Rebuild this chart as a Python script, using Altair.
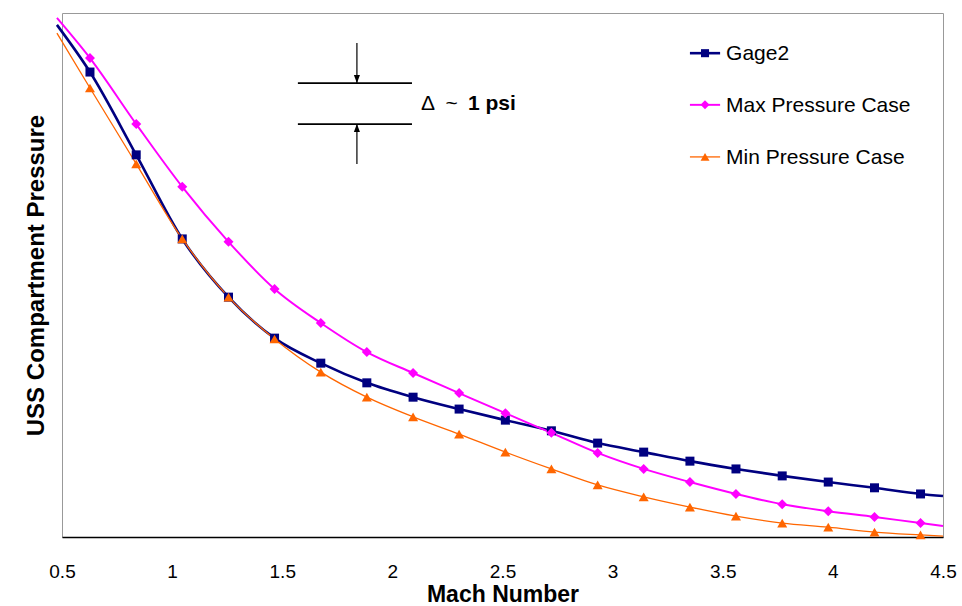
import altair as alt
import pandas as pd

# ---- data ----
series_names = ["Gage2", "Max Pressure Case", "Min Pressure Case"]
series_colors = ["#000080", "#FF00FF", "#FF6600"]
series_widths = [2.6, 1.3, 1.3]
marker_shapes = ["square", "diamond", "triangle-up"]
marker_sizes = [81, 100, 100]

mach = [0.477, 0.627, 0.837, 1.046, 1.256, 1.465, 1.675, 1.884, 2.094, 2.303, 2.513,
        2.722, 2.932, 3.141, 3.351, 3.560, 3.770, 3.979, 4.189, 4.398, 4.500]
has_marker = [False] + [True] * 19 + [False]

gage2 = [12.49, 11.34, 9.32, 7.27, 5.85, 4.85, 4.24, 3.76, 3.41, 3.12, 2.85,
         2.59, 2.29, 2.07, 1.85, 1.66, 1.49, 1.34, 1.20, 1.05, 1.00]
max_case = [12.66, 11.68, 10.07, 8.54, 7.20, 6.05, 5.22, 4.51, 4.00, 3.51, 3.02,
            2.54, 2.05, 1.66, 1.34, 1.05, 0.80, 0.63, 0.49, 0.34, 0.27]
min_case = [12.29, 10.95, 9.10, 7.27, 5.85, 4.83, 4.02, 3.41, 2.93, 2.51, 2.07,
            1.66, 1.27, 0.98, 0.73, 0.51, 0.34, 0.24, 0.12, 0.05, 0.02]

x_ticks = [0.5, 1, 1.5, 2, 2.5, 3, 3.5, 4, 4.5]

# annotation: two levels 1 psi apart
delta_levels = [11.07, 10.07]
delta_x_range = [1.571, 2.089]
arrow_x = 1.839
arrow_tails = [12.05, 9.10]
label_pos = {"x1": 2.13, "x2": 2.343, "y": 10.55}

# legend layout (in chart coordinates, inside the plot at top right)
legend_rows_y = [11.80, 10.54, 9.27]
legend_line_x = [3.351, 3.488]
legend_text_x = 3.515

# ---- build tables ----
rows = []
for name, vals in zip(series_names, [gage2, max_case, min_case]):
    for m, v, mk in zip(mach, vals, has_marker):
        rows.append({"series": name, "mach": m, "psi": v, "marker": mk})
df = pd.DataFrame(rows)

leg = pd.DataFrame({
    "series": series_names,
    "ly": legend_rows_y,
    "lx0": [legend_line_x[0]] * 3,
    "lx1": [legend_line_x[1]] * 3,
    "lxm": [(legend_line_x[0] + legend_line_x[1]) / 2] * 3,
    "ltx": [legend_text_x] * 3,
})

xscale = alt.Scale(domain=[0.5, 4.5], nice=False, zero=False)
yscale = alt.Scale(domain=[0, 12.78], nice=False, zero=False)
FONT = "Liberation Sans"

x_enc = alt.X("mach:Q", scale=xscale,
              axis=alt.Axis(values=x_ticks, format="~g", title="Mach Number", grid=False,
                            ticks=False, tickSize=0, labelPadding=25,
                            labelFontSize=19, labelFont=FONT,
                            labelColor="black", domainColor="black", domainWidth=1.5,
                            titleFont=FONT, titleFontSize=23,
                            titleFontWeight="bold", titleColor="black",
                            titlePadding=2, labelFlush=False))
y_enc = alt.Y("psi:Q", scale=yscale,
              axis=alt.Axis(title="USS Compartment Pressure", labels=False, ticks=False,
                            domain=False, grid=False, titleFont=FONT,
                            titleFontSize=24, titleFontWeight="bold", titleColor="black",
                            titlePadding=14))

color_scale = alt.Scale(domain=series_names, range=series_colors)
width_scale = alt.Scale(domain=series_names, range=series_widths)

lines = alt.Chart(df).mark_line(interpolate="monotone").encode(
    x=x_enc, y=y_enc,
    color=alt.Color("series:N", scale=color_scale, legend=None),
    strokeWidth=alt.StrokeWidth("series:N", scale=width_scale, legend=None),
)

marker_layers = []
for name, shp, sz in zip(series_names, marker_shapes, marker_sizes):
    marker_layers.append(
        alt.Chart(df).transform_filter(
            (alt.datum.series == name) & alt.datum.marker
        ).mark_point(filled=True, opacity=1, shape=shp, size=sz).encode(
            x="mach:Q", y="psi:Q",
            color=alt.Color("series:N", scale=color_scale, legend=None),
        )
    )

# legend drawn with the same scales
legend_lines = alt.Chart(leg).mark_rule().encode(
    x=alt.X("lx0:Q", scale=xscale), x2="lx1:Q", y=alt.Y("ly:Q", scale=yscale),
    color=alt.Color("series:N", scale=color_scale, legend=None),
    strokeWidth=alt.StrokeWidth("series:N", scale=width_scale, legend=None),
)
legend_markers = []
for name, shp, sz in zip(series_names, marker_shapes, marker_sizes):
    legend_markers.append(
        alt.Chart(leg).transform_filter(alt.datum.series == name).mark_point(
            filled=True, opacity=1, shape=shp, size=sz * 0.8).encode(
            x=alt.X("lxm:Q", scale=xscale), y=alt.Y("ly:Q", scale=yscale),
            color=alt.Color("series:N", scale=color_scale, legend=None),
        )
    )
legend_text = alt.Chart(leg).mark_text(align="left", baseline="middle", font=FONT,
                                       fontSize=21, color="black", dy=1).encode(
    x=alt.X("ltx:Q", scale=xscale), y=alt.Y("ly:Q", scale=yscale), text="series:N")

# annotation layers
lv = pd.DataFrame({"y": delta_levels, "x0": [delta_x_range[0]] * 2, "x1": [delta_x_range[1]] * 2})
level_rules = alt.Chart(lv).mark_rule(color="black", strokeWidth=1.6).encode(
    x=alt.X("x0:Q", scale=xscale), x2="x1:Q", y=alt.Y("y:Q", scale=yscale))

ar = pd.DataFrame({"x": [arrow_x] * 2, "tail": arrow_tails, "tip": delta_levels,
                   "dir": ["down", "up"]})
arrow_lines = alt.Chart(ar).mark_rule(color="black", strokeWidth=1.2).encode(
    x=alt.X("x:Q", scale=xscale), y=alt.Y("tail:Q", scale=yscale), y2="tip:Q")
arrow_down = alt.Chart(ar).transform_filter("datum.dir == 'down'").mark_point(
    filled=True, color="black", opacity=1, size=256, shape="M0,0L-0.38,-1L0.38,-1Z").encode(
    x=alt.X("x:Q", scale=xscale), y=alt.Y("tip:Q", scale=yscale))
arrow_up = alt.Chart(ar).transform_filter("datum.dir == 'up'").mark_point(
    filled=True, color="black", opacity=1, size=256, shape="M0,0L-0.38,1L0.38,1Z").encode(
    x=alt.X("x:Q", scale=xscale), y=alt.Y("tip:Q", scale=yscale))

lab = pd.DataFrame({"x": [label_pos["x1"]], "x2": [label_pos["x2"]], "y": [label_pos["y"]]})
text1 = alt.Chart(lab).mark_text(text="\u0394\u2002~", align="left", baseline="middle",
                                 font=FONT, fontSize=21, color="black").encode(
    x=alt.X("x:Q", scale=xscale), y=alt.Y("y:Q", scale=yscale))
text2 = alt.Chart(lab).mark_text(text="1 psi", align="left", baseline="middle",
                                 font=FONT, fontSize=21, fontWeight="bold",
                                 color="black").encode(
    x=alt.X("x2:Q", scale=xscale), y=alt.Y("y:Q", scale=yscale))

chart = alt.layer(lines, *marker_layers, legend_lines, *legend_markers, legend_text,
                  level_rules, arrow_lines, arrow_down, arrow_up, text1, text2).properties(
    width=881, height=524,
    padding={"left": 62, "top": 13, "right": 19, "bottom": 69},
    autosize=alt.AutoSizeParams(type="none"),
    background="white",
).configure_view(stroke="#999999", strokeWidth=1)

chart.save("out.html", embed_options={"renderer": "svg", "actions": False})
